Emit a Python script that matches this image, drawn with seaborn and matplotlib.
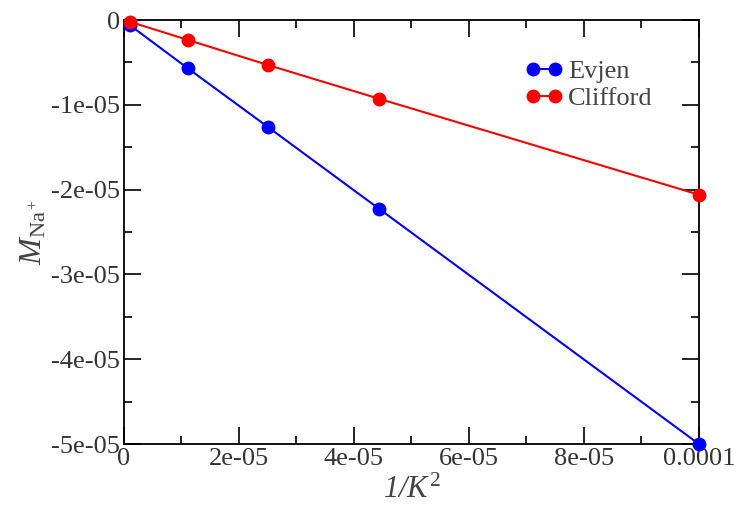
import pandas as pd
import matplotlib.pyplot as plt
import seaborn as sns
from matplotlib.ticker import MultipleLocator, FuncFormatter

# datos
inv_k2 = [1e-6, 1.111e-5, 2.5e-5, 4.444e-5, 1e-4]
evjen = [-0.06e-5, -0.57e-5, -1.26e-5, -2.23e-5, -5.0e-5]
clifford = [-0.02e-5, -0.235e-5, -0.53e-5, -0.93e-5, -2.06e-5]
series = ["Evjen", "Clifford"]
colores = ["#0000ff", "#ff0000"]

df = pd.DataFrame({
    "x": inv_k2 * 2,
    "M": evjen + clifford,
    "Serie": [series[0]] * len(inv_k2) + [series[1]] * len(inv_k2),
})

sns.set_style("ticks")
plt.rcParams["font.family"] = ["Liberation Serif", "DejaVu Serif"]
plt.rcParams["mathtext.fontset"] = "custom"
plt.rcParams["mathtext.rm"] = "Liberation Serif"
plt.rcParams["mathtext.it"] = "Liberation Serif:italic"

fig = plt.figure(figsize=(7.38, 5.13), dpi=100)
ax = fig.add_axes([0.168, 0.1345, 0.779, 0.8265])

for nombre, color in zip(series, colores):
    sns.lineplot(data=df[df["Serie"] == nombre], x="x", y="M", color=color, marker="o",
                 markersize=10, markeredgewidth=0, linewidth=1.5, label=nombre, ax=ax,
                 clip_on=False, zorder=3)

ax.set_xlim(0, 1e-4)
ax.set_ylim(-5e-5, 0)
ax.xaxis.set_major_locator(MultipleLocator(2e-5))
ax.xaxis.set_minor_locator(MultipleLocator(1e-5))
ax.yaxis.set_major_locator(MultipleLocator(1e-5))
ax.yaxis.set_minor_locator(MultipleLocator(0.5e-5))

def fmt(v, pos):
    if abs(v) < 1e-12:
        return "0"
    if abs(v - 1e-4) < 1e-12:
        return "0.0001"
    return "%.0e" % v

ax.xaxis.set_major_formatter(FuncFormatter(fmt))
ax.yaxis.set_major_formatter(FuncFormatter(fmt))

ax.tick_params(which="both", direction="in", top=True, right=True, width=1.2, color="black",
               labelsize=19, labelcolor="#333333")
ax.tick_params(which="major", length=12, pad=3)
ax.tick_params(which="minor", length=6)
for s in ax.spines.values():
    s.set_linewidth(1.3)
    s.set_color("black")

ax.set_xlabel(r"1/$K^2$", fontsize=22, color="#444444", labelpad=4, style="italic")
ax.set_ylabel(r"$M_{\mathrm{Na}^+}$", fontsize=23, color="#444444", labelpad=2)

ax.legend(loc="upper left", bbox_to_anchor=(0.697, 0.906), frameon=False, numpoints=2,
          handlelength=1.45, fontsize=19, labelspacing=0.12, handletextpad=0.2,
          labelcolor="#444444", borderaxespad=0, borderpad=0)

fig.savefig("out.png", dpi=100)
